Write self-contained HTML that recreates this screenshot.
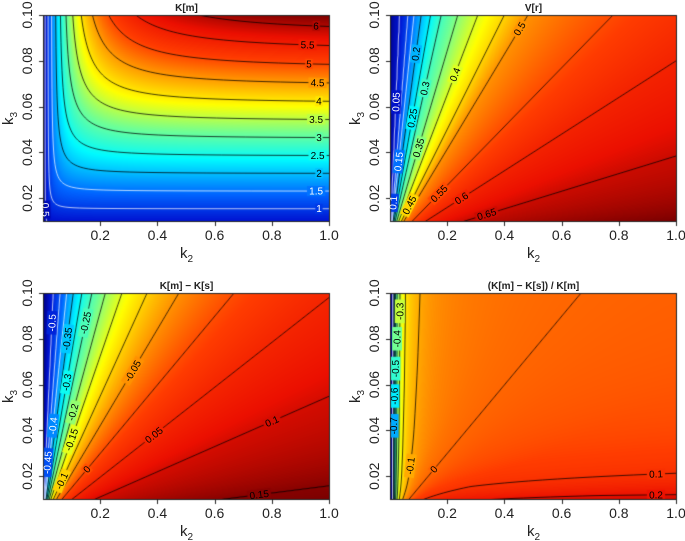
<!DOCTYPE html>
<html><head><meta charset="utf-8">
<style>
html,body{margin:0;padding:0;background:#fff;}
#wrap{position:relative;width:685px;height:541px;overflow:hidden;}
canvas,svg{position:absolute;left:0;top:0;}
text{font-family:"Liberation Sans",sans-serif;}
</style></head>
<body>
<div id="wrap">
<canvas id="cv" width="685" height="541"></canvas>
<svg id="sv" width="685" height="541" xmlns="http://www.w3.org/2000/svg"></svg>
</div>
<script>
// ---- data ----
const xTicks = [0.2, 0.4, 0.6, 0.8, 1.0];
const xTickLabels = ["0.2", "0.4", "0.6", "0.8", "1.0"];
const yTicks = [0.02, 0.04, 0.06, 0.08, 0.10];
const yTickLabels = ["0.02", "0.04", "0.06", "0.08", "0.10"];
const titles = ["K[m]", "V[r]", "K[m] \u2212 K[s]", "(K[m] \u2212 K[s]) / K[m]"];

// K[m] model parameters (fit to contour positions)
const kmParams = [65, 25.4, 0.8];
// V[r] along ratio k2/k3
const vrRatio = [0.03, 0.34, 0.63, 0.84, 1.09, 1.42, 1.79, 2.37, 3.07, 4.0, 4.82, 7.8, 12.5, 26, 100];
const vrValue = [0, 0.05, 0.1, 0.15, 0.2, 0.25, 0.3, 0.35, 0.4, 0.45, 0.5, 0.55, 0.6, 0.65, 0.7];
// K[m]-K[s] along ratio k2/k3
const dRatio = [0.003, 0.13, 0.36, 0.6, 0.83, 1.06, 1.36, 1.71, 2.18, 2.76, 3.64, 4.75, 6.68, 10.2, 18.2, 63, 200];
const dValue = [-0.6, -0.55, -0.5, -0.45, -0.4, -0.35, -0.3, -0.25, -0.2, -0.15, -0.1, -0.05, 0, 0.05, 0.1, 0.15, 0.17];

const levelsKm = [0.5, 1, 1.5, 2, 2.5, 3, 3.5, 4, 4.5, 5, 5.5, 6];
const levelsVr = [0.05, 0.1, 0.15, 0.2, 0.25, 0.3, 0.35, 0.4, 0.45, 0.5, 0.55, 0.6, 0.65];
const levelsD = [-0.5, -0.45, -0.4, -0.35, -0.3, -0.25, -0.2, -0.15, -0.1, -0.05, 0, 0.05, 0.1, 0.15];
const levelsR = [-0.9, -0.8, -0.7, -0.6, -0.5, -0.4, -0.3, -0.2, -0.1, 0, 0.1, 0.2];

// label anchors: [level, fixed k2 (or null), fixed k3 (or null)]
const labelsKm = [[0.5,null,0.015],[1,0.965,null],[1.5,0.955,null],[2,0.965,null],[2.5,0.96,null],[3,0.965,null],[3.5,0.955,null],[4,0.965,null],[4.5,0.96,null],[5,0.93,null],[5.5,0.925,null],[6,0.955,null]];
const labelsVr = [[0.05,null,0.062],[0.1,null,0.018],[0.15,null,0.036],[0.2,null,0.083],[0.25,null,0.055],[0.3,null,0.068],[0.35,null,0.042],[0.4,null,0.074],[0.45,null,0.017],[0.5,null,0.094],[0.55,null,0.022],[0.6,null,0.02],[0.65,null,0.013]];
const labelsD = [[-0.5,null,0.087],[-0.45,null,0.026],[-0.4,null,0.042],[-0.35,null,0.08],[-0.3,null,0.061],[-0.25,null,0.087],[-0.2,null,0.048],[-0.15,null,0.036],[-0.1,null,0.018],[-0.05,null,0.066],[0,null,0.023],[0.05,null,0.038],[0.1,null,0.044],[0.15,null,0.012]];
const labelsR = [[-0.3,null,0.092],[-0.4,null,0.08],[-0.5,null,0.067],[-0.6,null,0.055],[-0.7,null,0.042],[-0.1,null,0.0245],[0,null,0.023],[0.1,0.93,null],[0.2,0.93,null]];

// ---- models ----
function interpLog(rs, vs, r){
  if (r <= rs[0]) return vs[0];
  if (r >= rs[rs.length-1]) return vs[vs.length-1];
  const lr = Math.log(r);
  for (let i=0;i<rs.length-1;i++){
    if (r <= rs[i+1]){
      const a=Math.log(rs[i]), b=Math.log(rs[i+1]);
      return vs[i] + (vs[i+1]-vs[i])*(lr-a)/(b-a);
    }
  }
  return vs[vs.length-1];
}
function fKm(k2,k3){
  k2=Math.max(k2,0.002);
  const a=kmParams[0]*k3, g=kmParams[1]*Math.pow(k2,kmParams[2]);
  return Math.pow(1/(a*a)+1/(g*g),-0.5);
}
function fVr(k2,k3){ return interpLog(vrRatio, vrValue, Math.max(k2,0.002)/k3); }
function fD(k2,k3){ return interpLog(dRatio, dValue, Math.max(k2,0.002)/k3); }
function fR(k2,k3){ return fD(k2,k3)/fKm(k2,k3); }

const stops=[[0,[0,0,130]],[0.08,[0,20,210]],[0.2,[0,100,255]],[0.36,[0,250,255]],[0.48,[110,255,150]],[0.6,[255,255,0]],[0.7,[255,160,0]],[0.8,[255,60,0]],[0.9,[235,15,0]],[1,[122,0,0]]];
function cmap(t){
  t=Math.max(0,Math.min(1,t));
  for(let i=0;i<stops.length-1;i++){
    if(t<=stops[i+1][0]){
      const u=(t-stops[i][0])/(stops[i+1][0]-stops[i][0]);
      const a=stops[i][1], b=stops[i+1][1];
      return [a[0]+(b[0]-a[0])*u, a[1]+(b[1]-a[1])*u, a[2]+(b[2]-a[2])*u];
    }
  }
  return stops[stops.length-1][1];
}

const panels = [
  {x0:43, y0:15, f:fKm, levels:levelsKm, labels:labelsKm, title:titles[0], name:'km', zlim:null},
  {x0:390, y0:15, f:fVr, levels:levelsVr, labels:labelsVr, title:titles[1], name:'vr', zlim:null},
  {x0:43, y0:293, f:fD, levels:levelsD, labels:labelsD, title:titles[2], name:'km-ks', zlim:null},
  {x0:390, y0:293, f:fR, levels:levelsR, labels:labelsR, title:titles[3], name:'relative-diff', zlim:[-1.1,0.35]}
];
const PW=287, PH=207, SX=286, SY=2290;

const cv=document.getElementById('cv'), ctx=cv.getContext('2d');
const sv=document.getElementById('sv');
const NS='http://www.w3.org/2000/svg';
function mk(tag, attrs, parent){
  const e=document.createElementNS(NS,tag);
  for(const k in attrs) e.setAttribute(k, attrs[k]);
  (parent||sv).appendChild(e); return e;
}

panels.forEach((p, pi)=>{
  const xs = v => p.x0 + v*SX;
  const ys = v => p.y0 + (0.1 - v)*SY;
  const k2of = px => (px - p.x0)/SX;
  const k3of = py => 0.1 - (py - p.y0)/SY;
  const W=PW+1, H=PH+1, grid=new Float32Array(W*H);
  let mn=Infinity, mx=-Infinity;
  for(let j=0;j<H;j++) for(let i=0;i<W;i++){
    const v=p.f(k2of(p.x0+i), k3of(p.y0+j));
    grid[j*W+i]=v; if(v<mn)mn=v; if(v>mx)mx=v;
  }
  if(p.zlim){mn=p.zlim[0]; mx=p.zlim[1];}
  const norm = v => (v-mn)/(mx-mn);
  const img=ctx.createImageData(PW,PH);
  for(let j=0;j<PH;j++) for(let i=0;i<PW;i++){
    const v=(grid[j*W+i]+grid[j*W+i+1]+grid[(j+1)*W+i]+grid[(j+1)*W+i+1])/4;
    const c=cmap(norm(v)); const o=(j*PW+i)*4;
    img.data[o]=c[0]; img.data[o+1]=c[1]; img.data[o+2]=c[2]; img.data[o+3]=255;
  }
  ctx.putImageData(img,p.x0,p.y0);
  ctx.save();
  ctx.beginPath(); ctx.rect(p.x0,p.y0,PW,PH); ctx.clip();
  p.levels.forEach(L=>{
    const white = norm(L) < 0.265;
    ctx.strokeStyle = white ? 'rgba(255,255,255,0.9)' : 'rgba(0,0,0,0.95)';
    ctx.lineWidth = 0.8;
    ctx.beginPath();
    for(let j=0;j<H-1;j++) for(let i=0;i<W-1;i++){
      const a=grid[j*W+i], b=grid[j*W+i+1], c=grid[(j+1)*W+i+1], d=grid[(j+1)*W+i];
      const code=(a>L?1:0)|(b>L?2:0)|(c>L?4:0)|(d>L?8:0);
      if(code===0||code===15) continue;
      const X=p.x0+i, Y=p.y0+j;
      const e=[
        [X+(L-a)/(b-a), Y],
        [X+1, Y+(L-b)/(c-b)],
        [X+(L-d)/(c-d), Y+1],
        [X, Y+(L-a)/(d-a)]
      ];
      const segs={1:[[3,0]],2:[[0,1]],3:[[3,1]],4:[[1,2]],5:[[3,0],[1,2]],6:[[0,2]],7:[[3,2]],8:[[2,3]],9:[[0,2]],10:[[0,1],[2,3]],11:[[1,2]],12:[[1,3]],13:[[0,1]],14:[[0,3]]}[code];
      segs.forEach(s=>{ctx.moveTo(e[s[0]][0],e[s[0]][1]); ctx.lineTo(e[s[1]][0],e[s[1]][1]);});
    }
    ctx.stroke();
  });
  const g=mk('g',{});
  
  
  p.labels.forEach(lb=>{
    const L=lb[0]; let k2=lb[1], k3=lb[2];
    let lo, hi, F;
    if(k2===null){ lo=0.002; hi=1.0; F=t=>p.f(t,k3)-L; }
    else { lo=0.0095; hi=0.1; F=t=>p.f(k2,t)-L; }
    let flo=F(lo), fhi=F(hi);
    if(flo*fhi>0) return;
    for(let it=0;it<50;it++){const m=(lo+hi)/2, fm=F(m); if(fm*flo<=0){hi=m;}else{lo=m;flo=fm;}}
    const sol=(lo+hi)/2;
    if(k2===null) k2=sol; else k3=sol;
    const px=xs(k2), py=ys(k3);
    const h=0.8;
    const gx=p.f(k2of(px+h),k3of(py))-p.f(k2of(px-h),k3of(py));
    const gy=p.f(k2of(px),k3of(py+h))-p.f(k2of(px),k3of(py-h));
    let ang=Math.atan2(gx,-gy)*180/Math.PI;
    if(ang>90) ang-=180; if(ang<-90) ang+=180;
    const txt=String(L);
    const tw=txt.length*5.4+2;
    const c=cmap(norm(L));
    ctx.save(); ctx.translate(px,py); ctx.rotate(ang*Math.PI/180);
    ctx.fillStyle='rgb('+c.map(Math.round).join(',')+')';
    ctx.fillRect(-tw/2,-5,tw,10); ctx.restore();
    const t=mk('text',{x:px.toFixed(1), y:(py+3.5).toFixed(1), 'text-anchor':'middle','font-size':'10', fill: norm(L)<0.265?'#ffffff':'#000000', transform:'rotate('+ang.toFixed(1)+' '+px.toFixed(1)+' '+py.toFixed(1)+')'}, g);
    
    
    t.textContent=txt;
  });
  ctx.restore();
  ctx.strokeStyle='#222'; ctx.lineWidth=1;
  ctx.strokeRect(p.x0+0.5,p.y0+0.5,PW-1,PH-1);
  ctx.beginPath();
  xTicks.forEach(v=>{const x=Math.round(xs(v))+0.5; ctx.moveTo(x,p.y0+PH); ctx.lineTo(x,p.y0+PH+4);});
  yTicks.forEach(v=>{const y=Math.round(ys(v))+0.5; ctx.moveTo(p.x0,y); ctx.lineTo(p.x0-4,y);});
  ctx.stroke();
  const ax=mk('g',{});
  
  
  xTicks.forEach((v,i)=>{
    const t=mk('text',{x:xs(v).toFixed(1), y:p.y0+PH+18, 'text-anchor':'middle','font-size':'14',fill:'#222'},ax);
    
    
    t.textContent=xTickLabels[i];
  });
  yTicks.forEach((v,i)=>{
    const X=p.x0-11, Y=ys(v);
    const t=mk('text',{x:X, y:Y.toFixed(1), 'text-anchor':'middle','font-size':'14',fill:'#222',transform:'rotate(-90 '+X+' '+Y.toFixed(1)+')'},ax);
    
    
    t.textContent=yTickLabels[i];
  });
  const xt=mk('text',{x:p.x0+PW/2, y:p.y0+PH+36,'text-anchor':'middle','font-size':'15',fill:'#222'},ax);
  
  
  xt.innerHTML='k<tspan font-size="10" dy="4">2</tspan>';
  const YX=p.x0-30, YY=p.y0+PH/2;
  const yt=mk('text',{x:YX, y:YY,'text-anchor':'middle','font-size':'15',fill:'#222',transform:'rotate(-90 '+YX+' '+YY+')'},ax);
  
  
  yt.innerHTML='k<tspan font-size="10" dy="4">3</tspan>';
  const tt=mk('text',{x:p.x0+PW/2, y:p.y0-4,'text-anchor':'middle','font-size':'10','font-weight':'bold',fill:'#222'},ax);
  
  
  tt.textContent=p.title;
});
</script>
</body></html>
